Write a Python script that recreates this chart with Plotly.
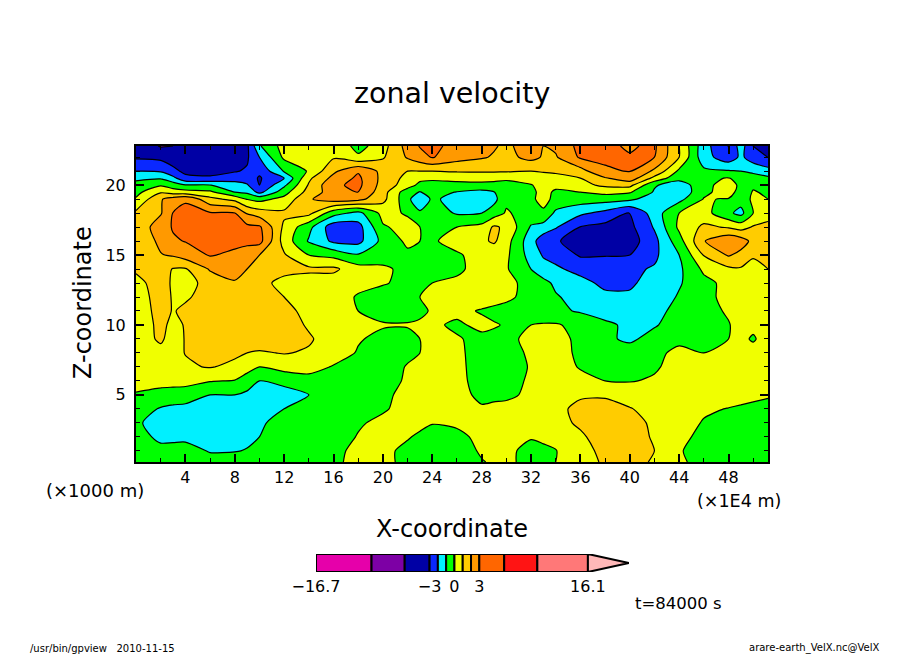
# zonal velocity contour plot, gpview style

import numpy as np
import plotly.graph_objects as go

W, H = 904, 654

x_coord = [0, 2, 3, 4, 6, 8, 9, 10, 12, 14, 16, 18, 20, 22, 23, 24, 26, 28, 29, 30, 32, 33, 34,
           36, 38, 40, 42, 44, 46, 48, 49, 50, 51.2]
z_coord = [22.8, 22, 21, 20.5, 20, 19.5, 19, 18, 17, 16, 15, 14, 13, 12, 11, 10, 9, 8, 7, 6, 5, 4, 3, 2, 1, 0.2]

# velocity, one row per z_coord, top row first
velocity = [
    [-4.0,-6.3,-6.0,-4.8,-4.5,-4.2,-3.6,-1.1,0.4,0.3,0.9,-0.4,0.6,2.4,3.2,3.9,2.6,2.3,2.1,1.8,2.5,2.0,2.2,3.9,3.5,2.9,3.5,1.0,-1.6,-3.1,-1.5,-3.1,-4.5],
    [-3.4,-3.8,-4.2,-4.5,-5.0,-4.3,-3.4,-2.0,0.2,0.3,0.9,0.2,0.9,2.1,2.6,3.2,2.4,2.1,1.9,1.7,2.3,1.9,1.9,3.4,3.4,3.2,3.0,1.0,-1.6,-2.6,-1.8,-2.5,-3.1],
    [-2.0,-2.1,-2.8,-3.5,-3.6,-3.2,-2.9,-2.8,-0.9,0.1,1.8,2.9,1.7,1.0,1.0,1.0,1.1,1.1,1.1,1.1,1.0,1.1,1.2,1.6,2.9,3.1,1.8,-0.2,-0.8,-0.9,-1.0,-1.3,-1.6],
    [-1.3,-1.1,-1.7,-2.8,-2.9,-2.5,-2.5,-3.3,-2.0,0.8,2.3,3.6,1.7,0.7,0.3,0.2,0.2,0.4,0.3,0.1,0.4,0.5,0.6,1.0,1.9,2.6,0.7,-0.7,-0.2,0.05,-0.3,-0.4,-0.8],
    [-0.5,-0.1,-0.5,-0.9,-0.95,-1.5,-1.9,-3.0,-1.2,1.1,2.8,3.75,1.6,0.5,-0.3,-0.4,-0.2,-0.3,-0.3,-0.2,-0.05,0.3,0.3,0.7,1.2,1.3,-0.9,-1.5,-0.4,0.6,-0.3,-0.1,-0.5],
    [-0.3,0.9,0.5,0.4,0.2,-1.0,-1.2,-2.3,-0.4,1.4,2.5,3.1,1.4,-0.6,-1.05,-0.6,-1.05,-1.3,-1.05,-0.4,-0.3,0.4,-0.2,0.0,0.3,0.1,-1.1,-1.8,-0.2,0.4,-0.4,0.05,-0.1],
    [0.1,1.9,2.5,2.9,1.3,0.7,-0.05,-0.3,0.3,1.9,2.5,2.3,1.3,-0.7,-1.9,-0.8,-1.4,-1.6,-1.3,-0.2,-0.2,0.35,-0.3,-0.5,-0.6,-0.8,-1.5,-1.3,0.05,-0.05,-0.6,0.2,0.0],
    [1.2,1.9,3.1,3.7,3.3,3.1,1.9,1.5,1.2,1.3,-0.6,-1.3,0.3,-0.1,-0.8,-0.5,-1.1,-1.0,-0.5,0.1,-0.4,-0.2,-1.2,-1.8,-2.3,-3.2,-1.5,0.0,0.4,-0.8,-1.3,0.0,0.4],
    [1.2,2.6,3.2,4.5,4.3,4.0,3.8,3.5,0.8,-0.7,-2.6,-2.4,-0.1,0.3,0.0,-0.4,0.0,0.3,1.15,0.8,-1.1,-1.4,-1.9,-3.1,-3.9,-3.8,-1.9,0.2,1.2,0.9,0.6,1.1,1.4],
    [1.3,2.2,2.9,3.1,4.0,3.8,3.9,4.0,0.6,-1.1,-2.2,-2.3,-0.7,0.2,0.0,-0.1,0.3,0.8,1.15,0.4,-1.6,-2.6,-2.9,-4.2,-4.6,-4.4,-2.3,-0.4,1.95,2.8,2.5,1.7,1.5],
    [1.3,1.95,2.1,2.5,3.2,2.8,2.4,2.0,1.1,0.0,-0.3,-0.9,-0.5,-0.2,-0.2,-0.3,-0.1,0.3,0.3,0.2,-1.4,-2.1,-2.4,-3.3,-3.2,-3.0,-2.2,-1.0,1.05,2.1,1.7,1.1,1.1],
    [1.1,1.4,0.95,0.9,2.1,2.4,2.0,1.6,1.3,1.2,1.2,0.4,0.2,-0.3,-0.4,-0.5,-0.1,0.2,0.2,0.1,-1.0,-1.6,-1.8,-2.4,-2.3,-2.2,-1.9,-1.2,0.2,0.8,0.9,0.7,1.0],
    [0.8,1.3,0.9,0.6,1.4,1.9,1.6,1.3,0.7,0.5,0.5,0.3,0.1,-0.3,-0.1,0.0,0.1,0.5,0.4,0.4,-0.5,-0.7,-1.2,-1.6,-2.3,-2.2,-1.5,-1.1,-0.3,0.3,0.4,0.5,0.7],
    [0.7,1.25,0.95,0.9,1.3,1.5,1.35,1.2,1.0,0.6,0.5,-0.1,-0.5,-0.3,0.0,0.3,0.4,0.6,0.5,0.3,-0.5,-0.7,-0.9,-1.4,-1.7,-1.8,-1.6,-0.9,-0.4,0.4,0.5,0.6,0.7],
    [0.5,1.3,0.95,1.15,1.4,1.6,1.5,1.4,1.3,0.7,0.6,0.0,-0.4,-0.5,-0.2,0.1,0.3,-0.1,-0.3,-0.5,-0.5,-0.7,-0.8,-1.1,-1.6,-1.7,-1.3,-0.7,-0.3,0.1,0.3,0.5,0.6],
    [0.5,1.2,0.8,1.05,1.5,1.5,1.5,1.5,1.4,0.9,0.5,0.4,0.1,0.1,0.15,0.2,-0.2,0.3,0.1,-0.1,0.0,0.1,0.1,-0.3,-0.7,-1.3,-1.1,-0.5,-0.4,-0.05,0.3,0.3,0.6],
    [0.5,1.15,0.6,1.05,1.4,1.5,1.5,1.5,1.5,1.1,0.6,0.1,-0.3,-0.4,0.0,0.3,0.1,-0.3,-0.3,-0.3,0.3,0.4,0.3,-0.2,-0.8,-1.2,-0.6,-0.1,-0.2,0.0,0.3,-0.15,0.6],
    [0.5,0.7,0.8,1.02,1.2,1.15,1.0,0.9,1.05,0.9,0.6,-0.1,-0.3,-0.3,0.0,0.3,0.2,-0.4,-0.5,-0.5,0.2,0.4,0.4,-0.2,-0.4,-0.5,-0.1,0.1,0.0,0.3,0.4,0.5,0.6],
    [0.4,0.4,0.6,0.9,1.05,0.8,0.4,0.0,0.4,0.5,-0.1,-0.5,-0.7,0.1,0.3,0.5,0.3,-0.5,-0.6,-0.6,0.1,0.4,0.6,-0.1,-0.4,-0.4,-0.1,0.3,0.4,0.5,0.5,0.6,0.6],
    [0.2,0.2,0.2,0.2,0.05,-0.05,-0.5,-1.0,-0.8,-0.5,-0.5,-0.6,-0.6,0.2,0.4,0.5,0.3,-0.4,-0.5,-0.5,0.2,0.4,0.6,0.4,0.0,-0.05,0.1,0.5,0.6,0.6,0.6,0.6,0.6],
    [-0.05,-0.2,-0.25,-0.3,-1.0,-1.0,-1.2,-1.4,-1.3,-1.0,-0.5,-0.5,-0.3,0.4,0.45,0.5,0.3,-0.2,-0.2,-0.2,0.2,0.5,0.8,0.9,0.9,0.6,0.4,0.6,0.6,0.6,0.5,0.3,0.1],
    [-0.4,-1.1,-1.3,-1.4,-1.6,-1.7,-1.7,-1.7,-1.0,-0.7,-0.5,-0.4,-0.1,0.3,0.35,0.4,0.2,0.1,0.2,0.3,0.5,0.7,0.8,1.2,1.3,1.05,0.7,0.6,0.2,-0.05,-0.2,-0.3,-0.3],
    [-0.85,-1.4,-1.6,-1.8,-1.8,-1.7,-1.5,-1.2,-0.5,-0.4,-0.3,-0.1,0.2,0.5,0.3,0.05,0.2,0.4,0.45,0.5,0.6,0.7,0.8,1.1,1.5,1.4,0.8,0.6,-0.1,-0.5,-0.5,-0.5,-0.5],
    [-0.3,-1.4,-1.35,-1.3,-1.7,-1.4,-1.2,-1.0,-0.5,-0.4,-0.4,0.05,0.3,0.1,-0.2,-0.4,-0.3,0.3,0.35,0.4,0.1,0.3,0.5,0.9,1.3,1.4,0.9,0.2,-0.2,-0.6,-0.6,-0.6,-0.6],
    [-0.2,-0.5,-0.5,-0.5,-1.1,-1.05,-0.95,-0.8,-0.6,-0.5,-0.3,0.3,0.3,-0.3,-0.4,-0.5,-0.4,0.1,0.2,0.3,-0.4,-0.3,-0.05,0.6,1.3,1.4,1.0,0.1,-0.5,-0.7,-0.7,-0.6,-0.6],
    [-0.2,-0.3,-0.3,-0.3,-0.5,-0.5,-0.5,-0.5,-0.5,-0.3,-0.2,0.3,0.2,-0.2,-0.35,-0.5,-0.4,-0.05,0.1,0.2,-0.3,-0.1,0.0,0.4,1.2,1.3,0.9,0.2,-0.4,-0.6,-0.6,-0.6,-0.6],
]

levels = [-16.7, -10, -6, -3, -2, -1, 0, 1, 2, 3, 6, 10, 16.1]
band_colors = ["#E600AA", "#7D00A5", "#0000A5", "#0A28FF", "#00F0FF", "#00FF00", "#F0FF00",
               "#FFCC00", "#FF9900", "#FF6600", "#FF1414", "#FF7878", "#FFB8B8"]

x_ticks = [4, 8, 12, 16, 20, 24, 28, 32, 36, 40, 44, 48]
z_ticks = [5, 10, 15, 20]
bar_ticks = [-16.7, -3, 0, 3, 16.1]
bar_labels = ["\u221216.7", "\u22123", "0", "3", "16.1"]

FONT = "DejaVu Sans"


def px_x(p):
    return p / W


def px_y(p):
    return 1 - p / H


# plotly only has evenly spaced contours, so contour the band index instead
band_index = np.interp(np.array(velocity), levels, np.arange(len(levels)))

# plotly maps scale position s to level s*n - 0.5, so each step starts half a band in
n = len(band_colors)
colorscale = []
for i, c in enumerate(band_colors):
    colorscale.append([0 if i == 0 else (i + 0.5) / n, c])
    colorscale.append([1 if i == n - 1 else (i + 1.5) / n, c])

fig = go.Figure()

fig.add_trace(go.Contour(
    x=x_coord, y=z_coord, z=band_index,
    colorscale=colorscale, showscale=False,
    autocontour=False,
    contours=dict(start=0, end=n - 1, size=1, coloring="fill", showlines=True),
    line=dict(color="black", width=1.2, smoothing=0.7),
))

# colour key: one stacked bar per band plus the overflow arrow
for i in range(n - 1):
    fig.add_trace(go.Bar(
        x=[levels[i + 1] - levels[i]], y=[0], base=[levels[i]], orientation="h", width=[1],
        marker=dict(color=band_colors[i], line=dict(color="black", width=2)),
        xaxis="x2", yaxis="y2", showlegend=False,
    ))

arrow_len = 41 / 8.29
fig.add_trace(go.Scatter(
    x=[levels[-1], levels[-1] + arrow_len, levels[-1], levels[-1]], y=[0.5, 0, -0.5, 0.5],
    mode="lines", fill="toself", fillcolor=band_colors[-1], line=dict(color="black", width=2),
    xaxis="x2", yaxis="y2", showlegend=False,
))


def note(text, x, y, size, **kw):
    return dict(text=text, x=px_x(x), y=px_y(y), xref="paper", yref="paper", showarrow=False,
                xanchor="center", yanchor="middle", font=dict(family=FONT, size=size, color="black"), **kw)


notes = [
    note("zonal velocity", 452, 93, 28.5),
    note("X-coordinate", 452, 529, 24),
    note("Z-coordinate", 83, 303, 24, textangle=-90),
    note("(\u00d71000 m)", 95, 490, 18),
    note("(\u00d71E4 m)", 739, 501, 17.5),
    note("t=84000 s", 678, 603, 16.5),
    note("/usr/bin/gpview   2010-11-15", 102, 648, 10),
    note("arare-earth_VelX.nc@VelX", 814, 648, 10),
]

fig.update_layout(
    width=W, height=H, margin=dict(l=0, r=0, t=0, b=0),
    paper_bgcolor="white", plot_bgcolor="white", showlegend=False,
    barmode="overlay", annotations=notes,
    xaxis=dict(
        domain=[px_x(136), px_x(768)], range=[0, 51.2], anchor="y", automargin=False,
        tickmode="array", tickvals=x_ticks, ticks="inside", ticklen=8, tickwidth=2, tickcolor="black",
        minor=dict(dtick=2, ticks="inside", ticklen=4, tickwidth=1, tickcolor="black"),
        showline=True, linewidth=2, linecolor="black", mirror="allticks", showgrid=False, zeroline=False,
        tickfont=dict(family=FONT, size=16, color="black"), ticklabelstandoff=0,
    ),
    yaxis=dict(
        domain=[px_y(462), px_y(146)], range=[0.2, 22.8], anchor="x", automargin=False,
        tickmode="array", tickvals=z_ticks, ticks="inside", ticklen=8, tickwidth=2, tickcolor="black",
        minor=dict(dtick=1, ticks="inside", ticklen=4, tickwidth=1, tickcolor="black"),
        showline=True, linewidth=2, linecolor="black", mirror="allticks", showgrid=False, zeroline=False,
        tickfont=dict(family=FONT, size=16, color="black"), ticklabelstandoff=5,
    ),
    xaxis2=dict(
        domain=[px_x(316), px_x(316 + 8.29 * (levels[-1] - levels[0] + arrow_len))],
        range=[levels[0], levels[-1] + arrow_len], anchor="y2", automargin=False,
        tickmode="array", tickvals=bar_ticks, ticktext=bar_labels, ticks="", showgrid=False, zeroline=False,
        showline=False, tickfont=dict(family=FONT, size=16, color="black"), ticklabelstandoff=3,
    ),
    yaxis2=dict(
        domain=[px_y(572), px_y(554)], range=[-0.5, 0.5], anchor="x2", automargin=False,
        showticklabels=False, ticks="", showgrid=False, zeroline=False, showline=False,
    ),
)

fig.write_html("out.html", config={"displayModeBar": False}, post_script="document.body.style.margin='0';")
